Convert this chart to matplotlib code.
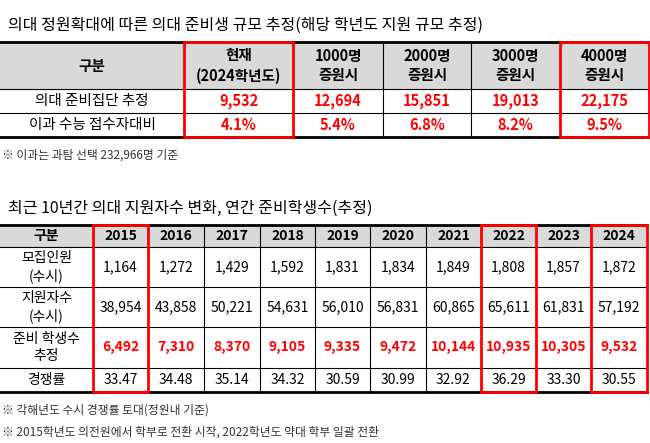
import matplotlib.pyplot as plt
from matplotlib.patches import Rectangle

plt.rcParams['font.family'] = ['Noto Sans CJK KR', 'Noto Sans CJK JP', 'Noto Sans CJK SC',
                               'Noto Sans CJK TC', 'DejaVu Sans']

# 표 1: 정원확대에 따른 의대 준비생 규모
t1_title = "의대 정원확대에 따른 의대 준비생 규모 추정(해당 학년도 지원 규모 추정)"
t1_header = ["구분", "현재\n(2024학년도)", "1000명\n증원시", "2000명\n증원시", "3000명\n증원시", "4000명\n증원시"]
t1_rows = ["의대 준비집단 추정", "이과 수능 접수자대비"]
t1_prep = ["9,532", "12,694", "15,851", "19,013", "22,175"]
t1_ratio = ["4.1%", "5.4%", "6.8%", "8.2%", "9.5%"]
t1_note = "※ 이과는 과탐 선택 232,966명 기준"

# 표 2: 최근 10년간 의대 지원자수 변화
t2_title = "최근 10년간 의대 지원자수 변화, 연간 준비학생수(추정)"
years = ["2015", "2016", "2017", "2018", "2019", "2020", "2021", "2022", "2023", "2024"]
t2_rows = ["모집인원\n(수시)", "지원자수\n(수시)", "준비 학생수\n추정", "경쟁률"]
recruit = ["1,164", "1,272", "1,429", "1,592", "1,831", "1,834", "1,849", "1,808", "1,857", "1,872"]
applicants = ["38,954", "43,858", "50,221", "54,631", "56,010", "56,831", "60,865", "65,611", "61,831", "57,192"]
prep_est = ["6,492", "7,310", "8,370", "9,105", "9,335", "9,472", "10,144", "10,935", "10,305", "9,532"]
comp_rate = ["33.47", "34.48", "35.14", "34.32", "30.59", "30.99", "32.92", "36.29", "33.30", "30.55"]
t2_notes = ["※ 각해년도 수시 경쟁률 토대(정원내 기준)",
            "※ 2015학년도 의전원에서 학부로 전환 시작, 2022학년도 약대 학부 일괄 전환"]

RED = '#ff0000'
GRAY = '#d9d9d9'

fig = plt.figure(figsize=(6.5, 4.43), dpi=100)
ax = fig.add_axes([0, 0, 1, 1])
ax.set_xlim(0, 650)
ax.set_ylim(443, 0)
ax.axis('off')


def draw_table(xs, ys, cells, colors, bolds, fs):
    ax.add_patch(Rectangle((xs[0], ys[0]), xs[-1] - xs[0], ys[1] - ys[0],
                           facecolor=GRAY, edgecolor='none'))
    for x in xs[1:-1]:
        ax.plot([x, x], [ys[0], ys[-1]], color='black', lw=0.8)
    for i, y in enumerate(ys):
        ax.plot([xs[0], xs[-1]], [y, y], color='black', lw=2 if i in (0, len(ys) - 1) else 0.8)
    for r in range(len(ys) - 1):
        for c in range(len(xs) - 1):
            ax.text((xs[c] + xs[c + 1]) / 2, (ys[r] + ys[r + 1]) / 2, cells[r][c],
                    ha='center', va='center', fontsize=fs, color=colors[r][c],
                    fontweight='bold' if bolds[r][c] else 'normal', linespacing=1.3)


def red_box(x0, x1, y0, y1):
    ax.add_patch(Rectangle((x0, y0), x1 - x0, y1 - y0, fill=False, edgecolor=RED, lw=2, zorder=5))


# 표 1
ax.text(8, 25, t1_title, fontsize=11.5, va='center', ha='left')
xs1 = [0, 184, 293, 383, 471, 560, 649]
ys1 = [42, 89, 113, 137]
cells1 = [t1_header, [t1_rows[0]] + t1_prep, [t1_rows[1]] + t1_ratio]
colors1 = [['black'] * 6, ['black'] + [RED] * 5, ['black'] + [RED] * 5]
bolds1 = [[True] * 6, [False] + [True] * 5, [False] + [True] * 5]
draw_table(xs1, ys1, cells1, colors1, bolds1, 10.5)
red_box(184, 293, 42, 137)
red_box(560, 649, 42, 137)
ax.text(2, 155, t1_note, fontsize=8.5, va='center', ha='left', color='#333333')

# 표 2
ax.text(8, 208, t2_title, fontsize=11.5, va='center', ha='left')
xs2 = [0, 93, 148, 204, 260, 315, 370, 426, 481, 536, 591, 647]
ys2 = [225, 247, 287, 327, 368, 392]
cells2 = [["구분"] + years,
          [t2_rows[0]] + recruit,
          [t2_rows[1]] + applicants,
          [t2_rows[2]] + prep_est,
          [t2_rows[3]] + comp_rate]
colors2 = [['black'] * 11, ['black'] * 11, ['black'] * 11, ['black'] + [RED] * 10, ['black'] * 11]
bolds2 = [[True] * 11, [False] * 11, [False] * 11, [False] + [True] * 10, [False] * 11]
draw_table(xs2, ys2, cells2, colors2, bolds2, 10)
for i in (0, 7, 9):
    red_box(xs2[i + 1], xs2[i + 2], 225, 392)
for k, note in enumerate(t2_notes):
    ax.text(2, 410 + 22 * k, note, fontsize=8.5, va='center', ha='left', color='#333333')

fig.savefig('out.png', dpi=100)
